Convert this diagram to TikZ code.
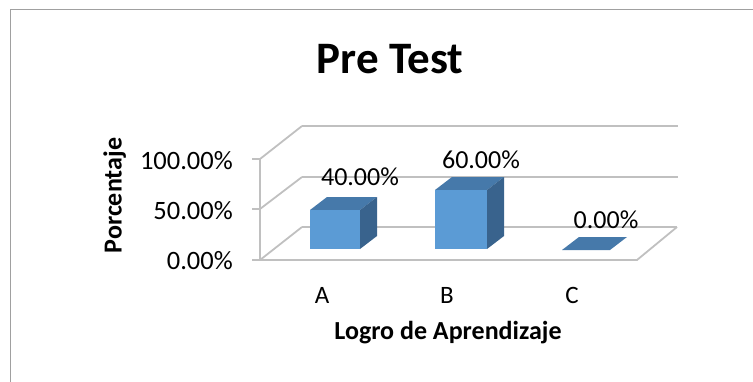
\documentclass[tikz,border=0pt]{standalone}
\usepackage{fontspec}
\setmainfont{Carlito}
\definecolor{frame}{RGB}{160,160,160}
\definecolor{grid}{RGB}{192,192,192}
\definecolor{barfront}{RGB}{91,155,213}
\definecolor{bartop}{RGB}{70,121,170}
\definecolor{barside}{RGB}{57,99,141}
\tikzset{
  gridline/.style={draw=grid, line width=1.8pt},
  framebox/.style={draw=frame, line width=1.4pt},
  ticklbl/.style={anchor=east, inner sep=0pt, font=\fontsize{26.5}{29}\selectfont},
  vallbl/.style={inner sep=0pt, font=\fontsize{26}{29}\selectfont},
  catlbl/.style={inner sep=0pt, font=\fontsize{25}{28}\selectfont},
  axtitle/.style={anchor=base, inner sep=0pt, font=\bfseries\fontsize{26}{29}\selectfont},
  ttl/.style={anchor=base, inner sep=0pt, font=\bfseries\fontsize{45}{49}\selectfont}
}
\begin{document}
\begin{tikzpicture}[x=1pt,y=-1pt]
\useasboundingbox (0,0) rectangle (753,381);
% outer frame
\draw[framebox] (10.5,390) -- (10.5,9.5) -- (760,9.5);
% title
\node[ttl] (title) at (390,73.5) {Pre Test};
% grid: back wall
\coordinate (b0l) at (302,227); \coordinate (b0r) at (677,227);
\coordinate (b1l) at (302,177); \coordinate (b1r) at (678,177);
\coordinate (b2l) at (302,126); \coordinate (b2r) at (678,126);
\coordinate (f0) at (260,260); \coordinate (f1) at (260,209); \coordinate (f2) at (260,159);
\coordinate (fr) at (637,260);
\draw[gridline] (b0l) -- (b0r);
\draw[gridline] (b1l) -- (b1r);
\draw[gridline] (b2l) -- (b2r);
\draw[gridline] (f0) -- (b0l);
\draw[gridline] (f1) -- (b1l);
\draw[gridline] (f2) -- (b2l);
\draw[gridline] (f0) -- (fr) -- (b0r);
\draw[gridline] (f0) -- (f2);
\draw[gridline] (252,260) -- (f0);
\draw[gridline] (252,209) -- (f1);
\draw[gridline] (252,159) -- (f2);
% tick labels
\node[ticklbl] (t0) at (233,261) {0.00\%};
\node[ticklbl] (t1) at (233,211) {50.00\%};
\node[ticklbl] (t2) at (233,161) {100.00\%};
% axis titles
\node[axtitle, rotate=90] (ytitle) at (121.5,195.5) {Porcentaje};
\node[axtitle] (xtitle) at (448,339.3) {Logro de Aprendizaje};
% categories
\node[catlbl] (ca) at (322,295.5) {A};
\node[catlbl] (cb) at (447,295.5) {B};
\node[catlbl] (cc) at (572,295.5) {C};
% bar A
\fill[bartop] (310,210) -- (360,210) -- (377,197) -- (327,197) -- cycle;
\fill[barside] (360,210) -- (377,197) -- (377,236) -- (360,249) -- cycle;
\fill[barfront] (310,210) rectangle (360,249);
% bar B
\fill[bartop] (435,190) -- (487,190) -- (504,177) -- (452,177) -- cycle;
\fill[barside] (487,190) -- (504,177) -- (504,236) -- (487,249) -- cycle;
\fill[barfront] (435,190) rectangle (487,249);
% bar C (zero)
\fill[bartop] (562,250) -- (610,250) -- (627,237) -- (579,237) -- cycle;
% value labels
\node[vallbl] (va) at (360,176.5) {40.00\%};
\node[vallbl] (vb) at (481,159.5) {60.00\%};
\node[vallbl] (vc) at (606,219.5) {0.00\%};
\end{tikzpicture}
\end{document}
